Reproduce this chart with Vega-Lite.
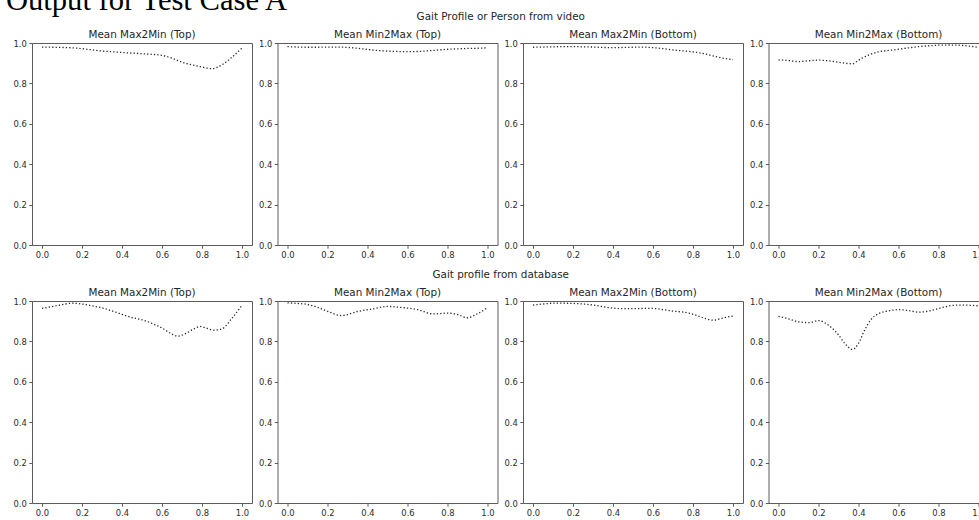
{
  "$schema": "https://vega.github.io/schema/vega-lite/v6.json",
  "background": "white",
  "padding": {"left": -167, "top": -15, "right": 0, "bottom": 0},
  "title": {"text": "Experimental Output for Test Case A", "font": "Liberation Serif", "fontSize": 30.6, "fontWeight": "normal", "color": "black", "anchor": "start", "frame": "bounds", "dx": -179, "baseline": "alphabetic", "offset": -28},
  "datasets": {
    "gait": [
      {"p":"A1","x":0,"y":0.980},{"p":"A1","x":0.05,"y":0.979},{"p":"A1","x":0.1,"y":0.978},{"p":"A1","x":0.15,"y":0.976},{"p":"A1","x":0.2,"y":0.972},{"p":"A1","x":0.25,"y":0.966},{"p":"A1","x":0.3,"y":0.960},{"p":"A1","x":0.35,"y":0.957},{"p":"A1","x":0.4,"y":0.953},{"p":"A1","x":0.45,"y":0.950},{"p":"A1","x":0.5,"y":0.947},{"p":"A1","x":0.55,"y":0.944},{"p":"A1","x":0.6,"y":0.939},{"p":"A1","x":0.65,"y":0.925},{"p":"A1","x":0.7,"y":0.905},{"p":"A1","x":0.75,"y":0.892},{"p":"A1","x":0.8,"y":0.881},{"p":"A1","x":0.85,"y":0.873},{"p":"A1","x":0.9,"y":0.892},{"p":"A1","x":0.95,"y":0.930},{"p":"A1","x":1.0,"y":0.975},
      {"p":"A2","x":0,"y":0.982},{"p":"A2","x":0.05,"y":0.980},{"p":"A2","x":0.1,"y":0.979},{"p":"A2","x":0.15,"y":0.979},{"p":"A2","x":0.2,"y":0.980},{"p":"A2","x":0.25,"y":0.980},{"p":"A2","x":0.3,"y":0.978},{"p":"A2","x":0.35,"y":0.974},{"p":"A2","x":0.4,"y":0.968},{"p":"A2","x":0.45,"y":0.963},{"p":"A2","x":0.5,"y":0.960},{"p":"A2","x":0.55,"y":0.958},{"p":"A2","x":0.6,"y":0.957},{"p":"A2","x":0.65,"y":0.958},{"p":"A2","x":0.7,"y":0.961},{"p":"A2","x":0.75,"y":0.965},{"p":"A2","x":0.8,"y":0.969},{"p":"A2","x":0.85,"y":0.971},{"p":"A2","x":0.9,"y":0.973},{"p":"A2","x":0.95,"y":0.974},{"p":"A2","x":1.0,"y":0.976},
      {"p":"A3","x":0,"y":0.979},{"p":"A3","x":0.05,"y":0.980},{"p":"A3","x":0.1,"y":0.981},{"p":"A3","x":0.15,"y":0.982},{"p":"A3","x":0.2,"y":0.982},{"p":"A3","x":0.25,"y":0.981},{"p":"A3","x":0.3,"y":0.980},{"p":"A3","x":0.35,"y":0.978},{"p":"A3","x":0.4,"y":0.977},{"p":"A3","x":0.45,"y":0.978},{"p":"A3","x":0.5,"y":0.979},{"p":"A3","x":0.55,"y":0.980},{"p":"A3","x":0.6,"y":0.977},{"p":"A3","x":0.65,"y":0.972},{"p":"A3","x":0.7,"y":0.966},{"p":"A3","x":0.75,"y":0.961},{"p":"A3","x":0.8,"y":0.956},{"p":"A3","x":0.85,"y":0.948},{"p":"A3","x":0.9,"y":0.936},{"p":"A3","x":0.95,"y":0.925},{"p":"A3","x":1.0,"y":0.918},
      {"p":"A4","x":0,"y":0.916},{"p":"A4","x":0.05,"y":0.913},{"p":"A4","x":0.1,"y":0.908},{"p":"A4","x":0.15,"y":0.912},{"p":"A4","x":0.2,"y":0.915},{"p":"A4","x":0.25,"y":0.912},{"p":"A4","x":0.3,"y":0.905},{"p":"A4","x":0.35,"y":0.898},{"p":"A4","x":0.37,"y":0.897},{"p":"A4","x":0.4,"y":0.915},{"p":"A4","x":0.45,"y":0.940},{"p":"A4","x":0.5,"y":0.956},{"p":"A4","x":0.55,"y":0.963},{"p":"A4","x":0.6,"y":0.969},{"p":"A4","x":0.65,"y":0.976},{"p":"A4","x":0.7,"y":0.982},{"p":"A4","x":0.75,"y":0.986},{"p":"A4","x":0.8,"y":0.989},{"p":"A4","x":0.85,"y":0.990},{"p":"A4","x":0.9,"y":0.989},{"p":"A4","x":0.95,"y":0.985},{"p":"A4","x":1.0,"y":0.978},
      {"p":"B1","x":0,"y":0.964},{"p":"B1","x":0.05,"y":0.972},{"p":"B1","x":0.1,"y":0.982},{"p":"B1","x":0.15,"y":0.989},{"p":"B1","x":0.2,"y":0.985},{"p":"B1","x":0.25,"y":0.976},{"p":"B1","x":0.3,"y":0.966},{"p":"B1","x":0.35,"y":0.951},{"p":"B1","x":0.4,"y":0.934},{"p":"B1","x":0.45,"y":0.918},{"p":"B1","x":0.5,"y":0.907},{"p":"B1","x":0.55,"y":0.889},{"p":"B1","x":0.6,"y":0.866},{"p":"B1","x":0.65,"y":0.836},{"p":"B1","x":0.68,"y":0.826},{"p":"B1","x":0.72,"y":0.840},{"p":"B1","x":0.76,"y":0.862},{"p":"B1","x":0.79,"y":0.874},{"p":"B1","x":0.82,"y":0.866},{"p":"B1","x":0.86,"y":0.856},{"p":"B1","x":0.9,"y":0.862},{"p":"B1","x":0.95,"y":0.915},{"p":"B1","x":1.0,"y":0.979},
      {"p":"B2","x":0,"y":0.991},{"p":"B2","x":0.05,"y":0.988},{"p":"B2","x":0.1,"y":0.983},{"p":"B2","x":0.15,"y":0.969},{"p":"B2","x":0.2,"y":0.949},{"p":"B2","x":0.27,"y":0.928},{"p":"B2","x":0.35,"y":0.948},{"p":"B2","x":0.42,"y":0.960},{"p":"B2","x":0.5,"y":0.973},{"p":"B2","x":0.55,"y":0.970},{"p":"B2","x":0.6,"y":0.965},{"p":"B2","x":0.65,"y":0.957},{"p":"B2","x":0.73,"y":0.936},{"p":"B2","x":0.8,"y":0.940},{"p":"B2","x":0.85,"y":0.933},{"p":"B2","x":0.9,"y":0.917},{"p":"B2","x":0.95,"y":0.937},{"p":"B2","x":1.0,"y":0.967},
      {"p":"B3","x":0,"y":0.980},{"p":"B3","x":0.05,"y":0.985},{"p":"B3","x":0.1,"y":0.989},{"p":"B3","x":0.15,"y":0.989},{"p":"B3","x":0.2,"y":0.988},{"p":"B3","x":0.25,"y":0.985},{"p":"B3","x":0.3,"y":0.980},{"p":"B3","x":0.35,"y":0.972},{"p":"B3","x":0.4,"y":0.965},{"p":"B3","x":0.45,"y":0.962},{"p":"B3","x":0.5,"y":0.962},{"p":"B3","x":0.55,"y":0.963},{"p":"B3","x":0.6,"y":0.963},{"p":"B3","x":0.65,"y":0.957},{"p":"B3","x":0.7,"y":0.950},{"p":"B3","x":0.75,"y":0.945},{"p":"B3","x":0.78,"y":0.940},{"p":"B3","x":0.82,"y":0.928},{"p":"B3","x":0.86,"y":0.914},{"p":"B3","x":0.9,"y":0.905},{"p":"B3","x":0.95,"y":0.916},{"p":"B3","x":1.0,"y":0.926},
      {"p":"B4","x":0,"y":0.924},{"p":"B4","x":0.05,"y":0.912},{"p":"B4","x":0.1,"y":0.897},{"p":"B4","x":0.15,"y":0.893},{"p":"B4","x":0.2,"y":0.903},{"p":"B4","x":0.25,"y":0.880},{"p":"B4","x":0.3,"y":0.832},{"p":"B4","x":0.33,"y":0.792},{"p":"B4","x":0.37,"y":0.760},{"p":"B4","x":0.4,"y":0.790},{"p":"B4","x":0.43,"y":0.855},{"p":"B4","x":0.46,"y":0.905},{"p":"B4","x":0.5,"y":0.937},{"p":"B4","x":0.55,"y":0.951},{"p":"B4","x":0.6,"y":0.957},{"p":"B4","x":0.65,"y":0.953},{"p":"B4","x":0.7,"y":0.945},{"p":"B4","x":0.75,"y":0.950},{"p":"B4","x":0.8,"y":0.963},{"p":"B4","x":0.85,"y":0.975},{"p":"B4","x":0.9,"y":0.980},{"p":"B4","x":0.95,"y":0.979},{"p":"B4","x":1.0,"y":0.976}
    ]
  },
  "data": {"name": "gait"},
  "config": {
    "font": "DejaVu Sans",
    "view": {"stroke": "#5c5c5c", "strokeWidth": 1},
    "axis": {"domain": false, "grid": false, "labelFont": "DejaVu Sans", "labelFontSize": 8.4, "labelColor": "#2b2b2b", "tickColor": "#4a4a4a", "tickSize": 3.2, "tickWidth": 0.9, "labelPadding": 2.5, "title": null},
    "title": {"font": "DejaVu Sans", "fontSize": 10.4, "fontWeight": "normal", "color": "#262626", "baseline": "alphabetic", "offset": -1},
    "line": {"interpolate": "monotone", "strokeDash": [1.3, 2.1], "strokeWidth": 1.3, "color": "#2a2a2a"}
  },
  "bounds": "full",
  "spacing": 10,
  "vconcat": [
    {
      "title": {"text": "Gait Profile or Person from video", "anchor": "middle", "offset": 6.5},
      "bounds": "flush",
      "spacing": 25.5,
      "hconcat": [
        {"title": "Mean Max2Min (Top)", "width": 220, "height": 202, "transform": [{"filter": "datum.p === 'A1'"}], "mark": "line",
         "encoding": {"x": {"field": "x", "type": "quantitative", "scale": {"domain": [-0.05, 1.05], "nice": false, "zero": false}, "axis": {"values": [0, 0.2, 0.4, 0.6, 0.8, 1.0], "format": ".1f"}}, "y": {"field": "y", "type": "quantitative", "scale": {"domain": [0, 1], "nice": false}, "axis": {"values": [0, 0.2, 0.4, 0.6, 0.8, 1.0], "format": ".1f"}}}},
        {"title": "Mean Min2Max (Top)", "width": 220, "height": 202, "transform": [{"filter": "datum.p === 'A2'"}], "mark": "line",
         "encoding": {"x": {"field": "x", "type": "quantitative", "scale": {"domain": [-0.05, 1.05], "nice": false, "zero": false}, "axis": {"values": [0, 0.2, 0.4, 0.6, 0.8, 1.0], "format": ".1f"}}, "y": {"field": "y", "type": "quantitative", "scale": {"domain": [0, 1], "nice": false}, "axis": {"values": [0, 0.2, 0.4, 0.6, 0.8, 1.0], "format": ".1f"}}}},
        {"title": "Mean Max2Min (Bottom)", "width": 220, "height": 202, "transform": [{"filter": "datum.p === 'A3'"}], "mark": "line",
         "encoding": {"x": {"field": "x", "type": "quantitative", "scale": {"domain": [-0.05, 1.05], "nice": false, "zero": false}, "axis": {"values": [0, 0.2, 0.4, 0.6, 0.8, 1.0], "format": ".1f"}}, "y": {"field": "y", "type": "quantitative", "scale": {"domain": [0, 1], "nice": false}, "axis": {"values": [0, 0.2, 0.4, 0.6, 0.8, 1.0], "format": ".1f"}}}},
        {"title": "Mean Min2Max (Bottom)", "width": 220, "height": 202, "transform": [{"filter": "datum.p === 'A4'"}], "mark": "line",
         "encoding": {"x": {"field": "x", "type": "quantitative", "scale": {"domain": [-0.05, 1.05], "nice": false, "zero": false}, "axis": {"values": [0, 0.2, 0.4, 0.6, 0.8, 1.0], "format": ".1f"}}, "y": {"field": "y", "type": "quantitative", "scale": {"domain": [0, 1], "nice": false}, "axis": {"values": [0, 0.2, 0.4, 0.6, 0.8, 1.0], "format": ".1f"}}}}
      ]
    },
    {
      "title": {"text": "Gait profile from database", "anchor": "middle", "offset": 6.5},
      "bounds": "flush",
      "spacing": 25.5,
      "hconcat": [
        {"title": "Mean Max2Min (Top)", "width": 220, "height": 202, "transform": [{"filter": "datum.p === 'B1'"}], "mark": "line",
         "encoding": {"x": {"field": "x", "type": "quantitative", "scale": {"domain": [-0.05, 1.05], "nice": false, "zero": false}, "axis": {"values": [0, 0.2, 0.4, 0.6, 0.8, 1.0], "format": ".1f"}}, "y": {"field": "y", "type": "quantitative", "scale": {"domain": [0, 1], "nice": false}, "axis": {"values": [0, 0.2, 0.4, 0.6, 0.8, 1.0], "format": ".1f"}}}},
        {"title": "Mean Min2Max (Top)", "width": 220, "height": 202, "transform": [{"filter": "datum.p === 'B2'"}], "mark": "line",
         "encoding": {"x": {"field": "x", "type": "quantitative", "scale": {"domain": [-0.05, 1.05], "nice": false, "zero": false}, "axis": {"values": [0, 0.2, 0.4, 0.6, 0.8, 1.0], "format": ".1f"}}, "y": {"field": "y", "type": "quantitative", "scale": {"domain": [0, 1], "nice": false}, "axis": {"values": [0, 0.2, 0.4, 0.6, 0.8, 1.0], "format": ".1f"}}}},
        {"title": "Mean Max2Min (Bottom)", "width": 220, "height": 202, "transform": [{"filter": "datum.p === 'B3'"}], "mark": "line",
         "encoding": {"x": {"field": "x", "type": "quantitative", "scale": {"domain": [-0.05, 1.05], "nice": false, "zero": false}, "axis": {"values": [0, 0.2, 0.4, 0.6, 0.8, 1.0], "format": ".1f"}}, "y": {"field": "y", "type": "quantitative", "scale": {"domain": [0, 1], "nice": false}, "axis": {"values": [0, 0.2, 0.4, 0.6, 0.8, 1.0], "format": ".1f"}}}},
        {"title": "Mean Min2Max (Bottom)", "width": 220, "height": 202, "transform": [{"filter": "datum.p === 'B4'"}], "mark": "line",
         "encoding": {"x": {"field": "x", "type": "quantitative", "scale": {"domain": [-0.05, 1.05], "nice": false, "zero": false}, "axis": {"values": [0, 0.2, 0.4, 0.6, 0.8, 1.0], "format": ".1f"}}, "y": {"field": "y", "type": "quantitative", "scale": {"domain": [0, 1], "nice": false}, "axis": {"values": [0, 0.2, 0.4, 0.6, 0.8, 1.0], "format": ".1f"}}}}
      ]
    }
  ]
}
